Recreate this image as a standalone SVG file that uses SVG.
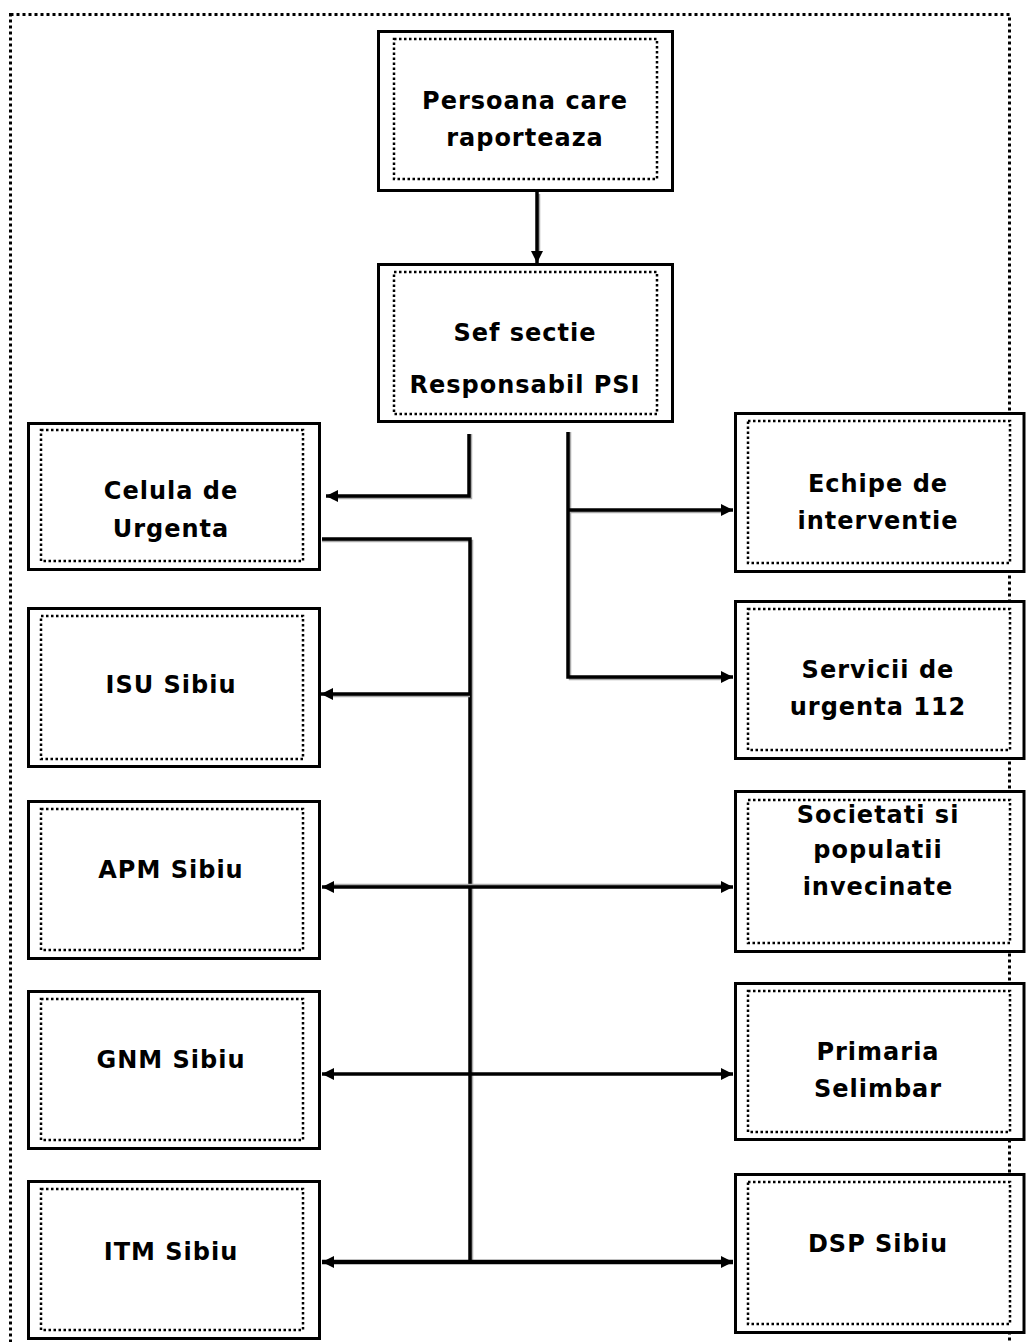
<svg xmlns="http://www.w3.org/2000/svg" width="1027" height="1342" viewBox="0 0 1027 1342">
<style>
.frame{fill:none;stroke:#000;stroke-width:3;stroke-dasharray:3 3}
.box{fill:#fff;stroke:#000;stroke-width:3}
.inner{fill:none;stroke:#000;stroke-width:2.5;stroke-dasharray:2.5 2.5}
.lbl{font-family:"DejaVu Sans",Verdana,sans-serif;font-weight:bold;font-size:24px;letter-spacing:1px;fill:#000;text-anchor:middle}
.ln{fill:none;stroke:#000;stroke-width:3.5}
.sh{fill:none;stroke:#aaa;stroke-width:2.5}
.a1{marker-end:url(#ah)}
.a2{marker-end:url(#ah);marker-start:url(#ah)}
</style>
<defs>
<marker id="ah" markerUnits="userSpaceOnUse" markerWidth="14" markerHeight="14" refX="12" refY="6" orient="auto-start-reverse">
<path d="M0,0 L12,6 L0,12 z" fill="#000"/>
</marker>
</defs>
<rect width="1027" height="1342" fill="#fff"/>
<rect class="frame" x="10.5" y="14.5" width="999" height="1345"/>

<g id="connectors">
<path class="sh" d="M539,194 V252"/>
<path class="ln a1" d="M537,192 V263"/>
<path class="sh" d="M471,434 V498 H332"/>
<path class="ln a1" d="M469,434 V496 H326"/>
<path class="sh" d="M322,541 H472 V1262"/>
<path class="ln" d="M322,539 H470 V1262"/>
<path class="sh" d="M470,696 H332"/>
<path class="ln a1" d="M470,694 H321"/>
<path class="sh" d="M332,885 H722"/>
<path class="ln a2" d="M322,887 H733"/>
<path class="ln a2" d="M322,1074 H733"/>
<path class="ln a2" d="M322,1262 H733" style="stroke-width:4.5"/>
<path class="sh" d="M570,432 V679 H722"/>
<path class="ln a1" d="M568,432 V677 H733"/>
<path class="sh" d="M570,512 H722"/>
<path class="ln a1" d="M568,510 H733"/>
</g>

<g id="n-persoana">
<rect class="box" x="378.5" y="31.5" width="294" height="159"/>
<rect class="inner" x="394" y="39" width="263" height="140"/>
<text class="lbl" x="525" y="109">Persoana care</text>
<text class="lbl" x="525" y="146">raporteaza</text>
</g>
<g id="n-sef">
<rect class="box" x="378.5" y="264.5" width="294" height="157"/>
<rect class="inner" x="394" y="272" width="263" height="142"/>
<text class="lbl" x="525" y="341">Sef sectie</text>
<text class="lbl" x="525" y="393">Responsabil PSI</text>
</g>

<g id="n-celula">
<rect class="box" x="28.5" y="423.5" width="291" height="146"/>
<rect class="inner" x="41" y="430" width="262" height="131"/>
<text class="lbl" x="171" y="499">Celula de</text>
<text class="lbl" x="171" y="537">Urgenta</text>
</g>
<g id="n-isu">
<rect class="box" x="28.5" y="608.5" width="291" height="158"/>
<rect class="inner" x="41" y="616" width="262" height="143"/>
<text class="lbl" x="171" y="693">ISU Sibiu</text>
</g>
<g id="n-apm">
<rect class="box" x="28.5" y="801.5" width="291" height="157"/>
<rect class="inner" x="41" y="809" width="262" height="141"/>
<text class="lbl" x="171" y="878">APM Sibiu</text>
</g>
<g id="n-gnm">
<rect class="box" x="28.5" y="991.5" width="291" height="157"/>
<rect class="inner" x="41" y="999" width="262" height="141"/>
<text class="lbl" x="171" y="1068">GNM Sibiu</text>
</g>
<g id="n-itm">
<rect class="box" x="28.5" y="1181.5" width="291" height="157"/>
<rect class="inner" x="41" y="1189" width="262" height="141"/>
<text class="lbl" x="171" y="1260">ITM Sibiu</text>
</g>

<g id="n-echipe">
<rect class="box" x="735.5" y="413.5" width="288.5" height="158"/>
<rect class="inner" x="748" y="421" width="262" height="142"/>
<text class="lbl" x="878" y="492">Echipe de</text>
<text class="lbl" x="878" y="529">interventie</text>
</g>
<g id="n-servicii">
<rect class="box" x="735.5" y="601.5" width="288.5" height="157"/>
<rect class="inner" x="748" y="609" width="262" height="141"/>
<text class="lbl" x="878" y="678">Servicii de</text>
<text class="lbl" x="878" y="715">urgenta 112</text>
</g>
<g id="n-societati">
<rect class="box" x="735.5" y="791.5" width="288.5" height="160"/>
<rect class="inner" x="748" y="800" width="262" height="143"/>
<text class="lbl" x="878" y="823">Societati si</text>
<text class="lbl" x="878" y="858">populatii</text>
<text class="lbl" x="878" y="895">invecinate</text>
</g>
<g id="n-primaria">
<rect class="box" x="735.5" y="983.5" width="288.5" height="156"/>
<rect class="inner" x="748" y="991" width="262" height="141"/>
<text class="lbl" x="878" y="1060">Primaria</text>
<text class="lbl" x="878" y="1097">Selimbar</text>
</g>
<g id="n-dsp">
<rect class="box" x="735.5" y="1174.5" width="288.5" height="158"/>
<rect class="inner" x="748" y="1182" width="262" height="142"/>
<text class="lbl" x="878" y="1252">DSP Sibiu</text>
</g>
</svg>
